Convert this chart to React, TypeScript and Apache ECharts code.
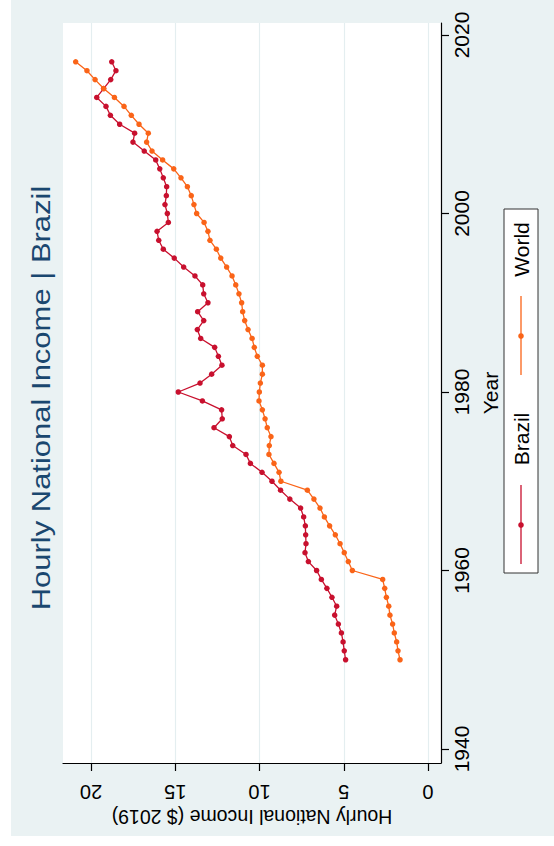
import React, { useEffect, useRef } from 'react';
import * as echarts from 'echarts';

const TITLE = 'Hourly National Income | Brazil';
const YEAR_AXIS_NAME = 'Year';
const INCOME_AXIS_NAME = 'Hourly National Income ($ 2019)';
const SERIES_NAMES = ['Brazil', 'World'];

const YEARS = [
  1950, 1951, 1952, 1953, 1954, 1955, 1956, 1957, 1958, 1959,
  1960, 1961, 1962, 1963, 1964, 1965, 1966, 1967, 1968, 1969,
  1970, 1971, 1972, 1973, 1974, 1975, 1976, 1977, 1978, 1979,
  1980, 1981, 1982, 1983, 1984, 1985, 1986, 1987, 1988, 1989,
  1990, 1991, 1992, 1993, 1994, 1995, 1996, 1997, 1998, 1999,
  2000, 2001, 2002, 2003, 2004, 2005, 2006, 2007, 2008, 2009,
  2010, 2011, 2012, 2013, 2014, 2015, 2016, 2017,
];

const BRAZIL = [
  4.89, 4.97, 5.04, 5.14, 5.32, 5.54, 5.42, 5.7, 6.0, 6.33,
  6.61, 7.1, 7.3, 7.24, 7.26, 7.28, 7.38, 7.56, 8.2, 8.75,
  9.26, 9.85, 10.54, 10.8, 11.59, 11.79, 12.7, 12.21, 12.25, 13.39,
  14.82, 13.53, 12.84, 12.23, 12.44, 12.66, 13.49, 13.69, 13.31, 13.67,
  13.06, 13.31, 13.37, 13.83, 14.5, 15.06, 15.71, 15.98, 16.08, 15.41,
  15.47, 15.61, 15.53, 15.51, 15.71, 15.92, 16.16, 16.84, 17.51, 17.41,
  18.3, 18.85, 19.11, 19.66, 19.25, 18.83, 18.52, 18.77,
];

const WORLD = [
  1.66, 1.78, 1.86, 2.0, 2.1, 2.26, 2.33, 2.47, 2.57, 2.69,
  4.49, 4.73, 4.97, 5.22, 5.5, 5.84, 6.15, 6.41, 6.77, 7.16,
  8.73, 8.84, 9.14, 9.44, 9.42, 9.32, 9.54, 9.67, 9.83, 10.03,
  10.01, 9.95, 9.83, 9.83, 10.13, 10.31, 10.44, 10.68, 10.88, 11.0,
  11.06, 11.22, 11.41, 11.63, 11.95, 12.3, 12.56, 12.94, 13.06, 13.29,
  13.73, 13.89, 14.05, 14.28, 14.66, 15.09, 15.75, 16.38, 16.7, 16.6,
  17.15, 17.61, 18.04, 18.61, 19.25, 19.76, 20.24, 20.91,
];

const YEAR_TICKS = [1940, 1960, 1980, 2000, 2020];
const INCOME_TICKS = [0, 5, 10, 15, 20];

const BRAZIL_COLOR = '#C8102E';
const WORLD_COLOR = '#FA6418';
const FONT = "'Liberation Sans', Arial, Helvetica, sans-serif";

export default function App() {
  const ref = useRef<HTMLDivElement>(null);

  useEffect(() => {
    document.body.style.margin = '0';
    const chart = echarts.init(ref.current as HTMLDivElement, null, { renderer: 'svg' });
    const pairs = (vals: number[]) => vals.map((v, i) => [v, YEARS[i]]);
    const axisLineStyle = { color: '#000000', width: 1.2 };

    const vText = (text: string, x: number, y: number, fontSize: number, fill: string, scaleY = 1) => ({
      type: 'text',
      x,
      y,
      rotation: Math.PI / 2,
      scaleY,
      style: {
        text,
        fontSize,
        fontFamily: FONT,
        fill,
        align: 'center',
        verticalAlign: 'middle',
        textAlign: 'center',
        textVerticalAlign: 'middle',
      },
    });

    chart.setOption({
      animation: false,
      backgroundColor: '#ffffff',
      textStyle: { fontFamily: FONT },
      grid: {
        left: 63,
        right: 113,
        top: 23,
        bottom: 83,
        show: true,
        backgroundColor: '#ffffff',
        borderWidth: 0,
        containLabel: false,
        outerBoundsMode: 'none',
      },
      xAxis: {
        type: 'value',
        position: 'bottom',
        inverse: true,
        min: -0.7715,
        max: 21.662,
        axisLine: { show: true, onZero: false, lineStyle: axisLineStyle },
        axisTick: { show: true, inside: false, length: 8, customValues: INCOME_TICKS, lineStyle: axisLineStyle },
        axisLabel: {
          customValues: INCOME_TICKS,
          rotate: 180,
          margin: 19,
          fontSize: 20,
          color: '#000000',
          formatter: (v: number) => String(v),
        },
        splitLine: { show: true, lineStyle: { color: '#E4EEF0', width: 1.2 } },
        name: INCOME_AXIS_NAME,
        nameLocation: 'middle',
        nameGap: 44,
        nameRotate: 180,
        nameTextStyle: { fontSize: 19.5, color: '#000000', fontFamily: FONT },
      },
      yAxis: {
        type: 'value',
        position: 'right',
        min: 1938.4314,
        max: 2021.3445,
        axisLine: { show: true, onZero: false, lineStyle: axisLineStyle },
        axisTick: { show: true, inside: false, length: 8, customValues: YEAR_TICKS, lineStyle: axisLineStyle },
        axisLabel: {
          customValues: YEAR_TICKS,
          rotate: 90,
          margin: 10,
          fontSize: 21,
          color: '#000000',
          formatter: (v: number) => String(v),
        },
        splitLine: { show: false },
        name: YEAR_AXIS_NAME,
        nameLocation: 'middle',
        nameGap: 24,
        nameRotate: 90,
        nameTextStyle: { fontSize: 21, color: '#000000', fontFamily: FONT },
      },
      series: [
        {
          name: SERIES_NAMES[0],
          type: 'line',
          data: pairs(BRAZIL),
          color: BRAZIL_COLOR,
          symbol: 'circle',
          symbolSize: 5.5,
          showSymbol: true,
          lineStyle: { width: 1.3, color: BRAZIL_COLOR },
          itemStyle: { color: BRAZIL_COLOR },
          z: 3,
        },
        {
          name: SERIES_NAMES[1],
          type: 'line',
          data: pairs(WORLD),
          color: WORLD_COLOR,
          symbol: 'circle',
          symbolSize: 5.5,
          showSymbol: true,
          lineStyle: { width: 1.3, color: WORLD_COLOR },
          itemStyle: { color: WORLD_COLOR },
          z: 4,
        },
      ],
      graphic: [
        {
          type: 'rect',
          z: -10,
          silent: true,
          shape: { x: 11, y: 0, width: 543, height: 836 },
          style: { fill: '#EAF2F3' },
        },
        { ...vText(TITLE, 41, 398, 31, '#1A476F', 0.82), z: 10 },
        {
          type: 'group',
          z: 10,
          children: [
            {
              type: 'rect',
              shape: { x: 504, y: 209, width: 34, height: 364 },
              style: { fill: '#ffffff', stroke: '#333333', lineWidth: 1 },
            },
            {
              type: 'line',
              shape: { x1: 521, y1: 296, x2: 521, y2: 375 },
              style: { stroke: WORLD_COLOR, lineWidth: 1.3 },
            },
            {
              type: 'circle',
              shape: { cx: 521, cy: 336, r: 2.8 },
              style: { fill: WORLD_COLOR },
            },
            vText(SERIES_NAMES[1], 521, 249.5, 21, '#000000'),
            {
              type: 'line',
              shape: { x1: 521, y1: 485, x2: 521, y2: 564 },
              style: { stroke: BRAZIL_COLOR, lineWidth: 1.3 },
            },
            {
              type: 'circle',
              shape: { cx: 521, cy: 525, r: 2.8 },
              style: { fill: BRAZIL_COLOR },
            },
            vText(SERIES_NAMES[0], 521, 439, 21, '#000000'),
          ],
        },
      ],
    });

    return () => chart.dispose();
  }, []);

  return <div ref={ref} style={{ position: 'fixed', left: 0, top: 0, width: 554, height: 846 }} />;
}
